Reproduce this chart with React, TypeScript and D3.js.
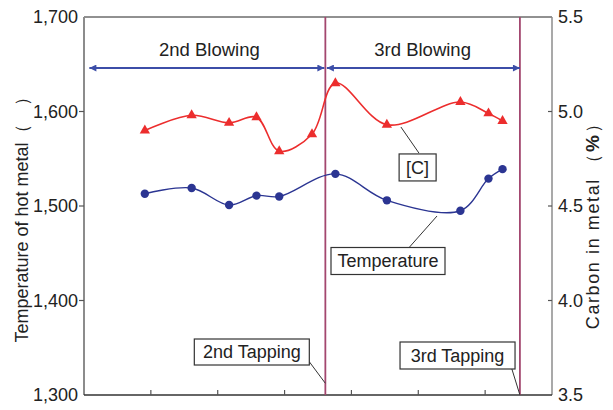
import React from "react";
import * as d3 from "d3";

const W = 613;
const H = 410;
const margin = { top: 17, right: 61, bottom: 15, left: 84 };

// sample times (elapsed, arbitrary units) and readings
const carbonTime = [0.91, 1.61, 2.17, 2.58, 2.92, 3.41, 3.76, 4.53, 5.63, 6.05, 6.26];
const carbonPct = [4.9, 4.98, 4.94, 4.97, 4.79, 4.88, 5.15, 4.93, 5.05, 4.99, 4.95];
const tempTime = [0.91, 1.61, 2.17, 2.58, 2.92, 3.76, 4.53, 5.63, 6.05, 6.26];
const tempC = [1513, 1519, 1501, 1511, 1510, 1534, 1506, 1495, 1529, 1539];

const tappingTime = [3.61, 6.52];
const tappingLabels = ["2nd Tapping", "3rd Tapping"];
const blowingStart = [0.08, 3.61];
const blowingEnd = [3.61, 6.52];
const blowingLabels = ["2nd Blowing", "3rd Blowing"];

const tempTicks = [1300, 1400, 1500, 1600, 1700];
const carbonTicks = [3.5, 4.0, 4.5, 5.0, 5.5];
const timeTicks = [1, 2, 3, 4, 5, 6];

const FONT = "'Liberation Sans', Arial, Helvetica, sans-serif";
const RED = "#ec2d2d";
const BLUE = "#2b3592";
const ARROW = "#3c4ea8";
const MAGENTA = "#a3476f";

const App = () => {
  const x = d3.scaleLinear().domain([0, 7]).range([margin.left, W - margin.right]);
  const yL = d3.scaleLinear().domain([1300, 1700]).range([H - margin.bottom, margin.top]);
  const yR = d3.scaleLinear().domain([3.5, 5.5]).range([H - margin.bottom, margin.top]);

  const carbonData = carbonTime.map((t, i) => [t, carbonPct[i]] as [number, number]);
  const tempData = tempTime.map((t, i) => [t, tempC[i]] as [number, number]);

  const carbonLine = d3
    .line<[number, number]>()
    .x((d) => x(d[0]))
    .y((d) => yR(d[1]))
    .curve(d3.curveCatmullRom.alpha(0.5));
  const tempLine = d3
    .line<[number, number]>()
    .x((d) => x(d[0]))
    .y((d) => yL(d[1]))
    .curve(d3.curveCatmullRom.alpha(0.5));

  const tri = d3.symbol(d3.symbolTriangle, 46)()!;

  const left = margin.left;
  const right = W - margin.right;
  const top = margin.top;
  const bottom = H - margin.bottom;
  const arrowY = yL(1646);

  // callout boxes, placed in data units
  const callouts: { text: string; cx: number; cy: number; w: number; h: number; x1: number; y1: number; x2: number; y2: number }[] = [
    { text: "[C]", cx: x(4.99), cy: yR(4.704), w: 37, h: 27, x1: x(4.74), y1: yR(4.918), x2: x(5.01), y2: yR(4.78) },
    { text: "Temperature", cx: x(4.547), cy: yL(1441.8), w: 114, h: 27, x1: x(5.28), y1: yL(1489.4), x2: x(4.866), y2: yL(1456.3) },
    { text: tappingLabels[0], cx: x(2.51), cy: yL(1345.5), w: 115, h: 26, x1: x(3.37), y1: yL(1335.2), x2: x(tappingTime[0]), y2: yL(1312.4) },
    { text: tappingLabels[1], cx: x(5.587), cy: yL(1341.8), w: 115, h: 27, x1: x(6.397), y1: yL(1328.2), x2: x(tappingTime[1]), y2: yL(1300) },
  ];

  return (
    <svg width={W} height={H} style={{ position: "absolute", left: 0, top: 0, background: "#fff" }} fontFamily={FONT}>
      <defs>
        <marker id="ah" viewBox="0 0 10 10" refX="10" refY="5" markerWidth="8" markerHeight="7" markerUnits="userSpaceOnUse" orient="auto-start-reverse">
          <path d="M0,0 L10,5 L0,10 z" fill={ARROW} />
        </marker>
      </defs>

      {/* frame */}
      <line x1={left} x2={right} y1={top} y2={top} stroke="#222" strokeWidth={1} />
      <line x1={left} x2={left} y1={top} y2={bottom} stroke="#8c8c8c" strokeWidth={2} />
      <line x1={right} x2={right} y1={top} y2={bottom} stroke="#8c8c8c" strokeWidth={1.5} />
      <line x1={left} x2={right} y1={bottom} y2={bottom} stroke="#333" strokeWidth={1.5} />

      {/* bottom ticks */}
      {timeTicks.map((t) => (
        <line key={t} x1={x(t)} x2={x(t)} y1={bottom} y2={bottom - 5} stroke="#555" strokeWidth={1.2} />
      ))}

      {/* left axis */}
      {tempTicks.map((t) => (
        <g key={t}>
          {t > 1300 && t < 1700 && <line x1={left - 5} x2={left} y1={yL(t)} y2={yL(t)} stroke="#555" strokeWidth={1.2} />}
          <text x={left - 6} y={yL(t)} dy="0.36em" textAnchor="end" fontSize={18} fill="#222">
            {d3.format(",")(t)}
          </text>
        </g>
      ))}
      <text transform={`translate(28,${yL(1490)}) rotate(-90)`} textAnchor="middle" fontSize={18} fill="#222">
        Temperature of hot metal（　）
      </text>

      {/* right axis */}
      {carbonTicks.map((t) => (
        <g key={t}>
          {t > 3.5 && t < 5.5 && <line x1={right - 4} x2={right} y1={yR(t)} y2={yR(t)} stroke="#555" strokeWidth={1.2} />}
          <text x={right + 6} y={yR(t)} dy="0.36em" textAnchor="start" fontSize={18} fill="#222">
            {d3.format(".1f")(t)}
          </text>
        </g>
      ))}
      <text transform={`translate(599,${yR(4.418)}) rotate(-90)`} textAnchor="middle" fontSize={18} fill="#222" letterSpacing={1.6}>
        Carbon in metal （<tspan fontWeight="bold" fontSize={19}>%</tspan>）
      </text>

      {/* tapping lines */}
      {tappingTime.map((t) => (
        <line key={t} x1={x(t)} x2={x(t)} y1={top} y2={bottom} stroke={MAGENTA} strokeWidth={1.8} />
      ))}

      {/* blowing arrows */}
      {blowingLabels.map((lab, i) => (
        <g key={lab}>
          <line
            x1={x(blowingStart[i]) + (i === 1 ? 1.5 : 0)}
            x2={x(blowingEnd[i]) - (i === 0 ? 1 : 0)}
            y1={arrowY}
            y2={arrowY}
            stroke={ARROW}
            strokeWidth={2}
            markerStart="url(#ah)"
            markerEnd="url(#ah)"
          />
          <text x={(x(blowingStart[i]) + x(blowingEnd[i])) / 2 + (i === 0 ? 2 : 0)} y={arrowY - 12} textAnchor="middle" fontSize={18.5} fill="#222">
            {lab}
          </text>
        </g>
      ))}

      {/* series */}
      <path d={carbonLine(carbonData)!} fill="none" stroke={RED} strokeWidth={1.6} />
      <path d={tempLine(tempData)!} fill="none" stroke={BLUE} strokeWidth={1.4} />
      {carbonData.map((d, i) => (
        <path key={i} d={tri} transform={`translate(${x(d[0])},${yR(d[1])})`} fill={RED} />
      ))}
      {tempData.map((d, i) => (
        <circle key={i} cx={x(d[0])} cy={yL(d[1])} r={4.2} fill={BLUE} />
      ))}

      {/* callouts */}
      {callouts.map((c) => (
        <g key={c.text}>
          <line x1={c.x1} y1={c.y1} x2={c.x2} y2={c.y2} stroke="#333" strokeWidth={1} />
          <rect x={c.cx - c.w / 2} y={c.cy - c.h / 2} width={c.w} height={c.h} fill="#fff" stroke="#333" strokeWidth={1.2} />
          <text x={c.cx} y={c.cy} dy="0.36em" textAnchor="middle" fontSize={18} fill="#222">
            {c.text}
          </text>
        </g>
      ))}
    </svg>
  );
};

export default App;
